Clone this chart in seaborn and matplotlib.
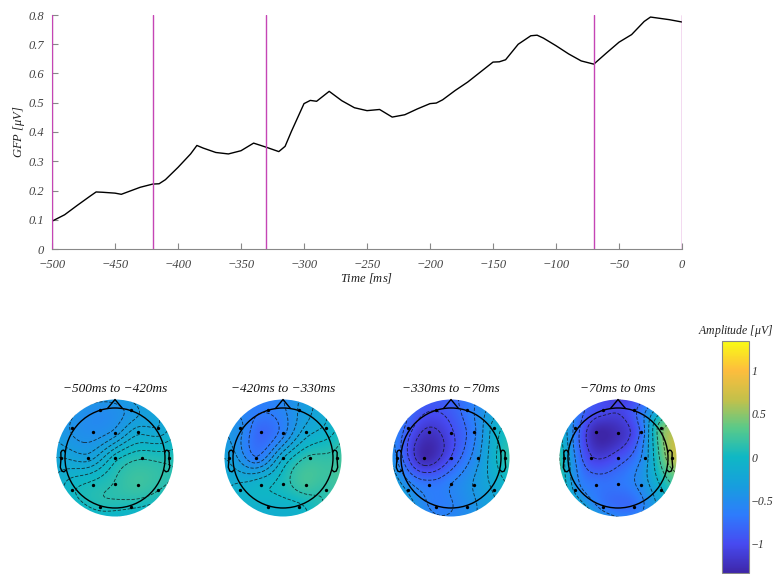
import numpy as np
import pandas as pd
import matplotlib
matplotlib.use("Agg")
import matplotlib.pyplot as plt
import seaborn as sns
from matplotlib.colors import LinearSegmentedColormap
from matplotlib.patches import Circle
from matplotlib.ticker import FuncFormatter, MultipleLocator

# GFP curve
gfp_time = [-500, -490, -480, -470, -465, -460, -450, -445, -440, -430,
            -420, -415, -410, -400, -390, -385, -380, -370, -360, -350,
            -340, -330, -320, -315, -310, -300, -295, -290, -280, -270,
            -260, -250, -240, -230, -220, -210, -200, -195, -190, -180,
            -170, -160, -150, -145, -140, -130, -120, -115, -110, -100,
            -90, -80, -70, -60, -50, -40, -30, -25, -20, -10, 0]
gfp_value = [0.095, 0.117, 0.149, 0.180, 0.195, 0.194, 0.191, 0.187, 0.195, 0.211,
             0.222, 0.223, 0.237, 0.279, 0.325, 0.354, 0.345, 0.330, 0.325, 0.336,
             0.362, 0.348, 0.333, 0.351, 0.402, 0.497, 0.508, 0.505, 0.539, 0.507,
             0.483, 0.473, 0.477, 0.451, 0.459, 0.479, 0.497, 0.499, 0.510, 0.542,
             0.571, 0.605, 0.639, 0.640, 0.647, 0.700, 0.729, 0.731, 0.721, 0.695,
             0.667, 0.643, 0.632, 0.670, 0.707, 0.733, 0.778, 0.793, 0.790, 0.784, 0.776]
window_edges = [-500, -420, -330, -70, 0]

# 10-20 electrodes (head radius = 1, nose up)
channels = ["Fp1", "Fp2", "F7", "F3", "Fz", "F4", "F8", "T3", "C3", "Cz", "C4", "T4",
            "T5", "P3", "Pz", "P4", "T6", "O1", "O2"]
chan_x = [-0.31, 0.31, -0.86, -0.45, 0.0, 0.45, 0.86, -1.08, -0.54, 0.0, 0.54, 1.08,
          -0.86, -0.45, 0.0, 0.45, 0.86, -0.31, 0.31]
chan_y = [0.97, 0.97, 0.61, 0.53, 0.51, 0.53, 0.61, 0.0, 0.0, 0.0, 0.0, 0.0,
          -0.63, -0.53, -0.51, -0.53, -0.63, -0.98, -0.98]

# mean amplitude (uV) per window, per channel
win_titles = ["−500ms to −420ms", "−420ms to −330ms", "−330ms to −70ms", "−70ms to 0ms"]
amp_w1 = [-0.50, -0.40, -0.45, -0.50, -0.40, -0.20, -0.25, -0.25, -0.30, -0.02, 0.10, 0.08,
          0.00, 0.05, 0.12, 0.20, 0.12, 0.06, 0.04]
amp_w2 = [-0.65, -0.40, -0.50, -0.80, -0.60, -0.22, -0.12, -0.30, -0.65, -0.15, 0.15, 0.18,
          -0.10, -0.05, 0.05, 0.22, 0.15, -0.10, -0.05]
amp_w3 = [-0.95, -0.70, -0.85, -1.20, -1.00, -0.65, -0.15, -0.60, -1.30, -0.95, -0.45, 0.10,
          -0.45, -0.70, -0.60, -0.40, -0.20, -0.65, -0.50]
amp_w4 = [-1.00, -0.90, -0.65, -1.30, -1.25, -0.80, 0.35, -0.05, -1.05, -0.95, -0.45, 0.60,
          -0.40, -0.70, -0.70, -0.50, -0.10, -0.65, -0.75]
amp_windows = [amp_w1, amp_w2, amp_w3, amp_w4]
clim = 1.34
cbar_ticks = [-1, -0.5, 0, 0.5, 1]

# parula-like colormap
parula = LinearSegmentedColormap.from_list("parula", [
    (0.0, (0.2422, 0.1504, 0.6603)),
    (0.125, (0.2780, 0.2900, 0.9450)),
    (0.25, (0.1800, 0.4850, 0.9900)),
    (0.375, (0.0900, 0.6200, 0.8700)),
    (0.5, (0.0600, 0.7200, 0.7700)),
    (0.625, (0.3500, 0.7900, 0.5400)),
    (0.75, (0.7700, 0.7550, 0.2900)),
    (0.875, (0.9930, 0.7420, 0.2400)),
    (1.0, (0.9769, 0.9839, 0.0805))])


def v4_interp(xe, ye, ve, xg, yg):
    # biharmonic spline, like griddata 'v4'
    xe, ye, ve = np.asarray(xe), np.asarray(ye), np.asarray(ve)
    d = np.hypot(xe[:, None] - xe[None, :], ye[:, None] - ye[None, :])
    g = np.where(d > 0, d**2 * (np.log(np.where(d > 0, d, 1)) - 1), 0)
    w = np.linalg.solve(g, ve)
    dg = np.hypot(xg[..., None] - xe, yg[..., None] - ye)
    gg = np.where(dg > 0, dg**2 * (np.log(np.where(dg > 0, dg, 1)) - 1), 0)
    return gg @ w


sns.set_style("ticks")
plt.rcParams["font.family"] = ["Liberation Serif", "DejaVu Serif"]
plt.rcParams["font.style"] = "italic"
plt.rcParams["mathtext.fontset"] = "custom"
plt.rcParams["mathtext.rm"] = "Liberation Serif"
plt.rcParams["mathtext.it"] = "Liberation Serif:italic"

fmt = FuncFormatter(lambda v, p: ("%g" % v).replace("-", "−"))

fig = plt.figure(figsize=(7.75, 5.74), dpi=100)

# GFP time course
ax = fig.add_axes([52 / 775, 1 - 249 / 574, 630 / 775, 234 / 574])
df = pd.DataFrame({"time": gfp_time, "gfp": gfp_value})
sns.lineplot(data=df, x="time", y="gfp", color="k", lw=1, ax=ax)
for edge in window_edges:
    ax.axvline(edge, color="#c545b5", lw=1, zorder=3)
ax.set_xlim(-500, 0)
ax.set_ylim(0, 0.8)
ax.xaxis.set_major_locator(MultipleLocator(50))
ax.yaxis.set_major_locator(MultipleLocator(0.1))
ax.xaxis.set_major_formatter(fmt)
ax.yaxis.set_major_formatter(fmt)
sns.despine(ax=ax)
for s in ["left", "bottom"]:
    ax.spines[s].set_color("#888888")
    ax.spines[s].set_linewidth(0.8)
ax.tick_params(direction="in", length=4, width=0.8, color="#888888",
               labelcolor="#444444", labelsize=9)
ax.tick_params(axis="x", pad=7)
ax.tick_params(axis="y", pad=6)
ax.set_xlabel("Time $\\mathrm{[ms]}$", fontsize=9, color="#222222", labelpad=0)
ax.set_ylabel("GFP $\\mathrm{[}$μV$\\mathrm{]}$", fontsize=9, color="#222222", labelpad=1)

# topographic maps
ear_x = np.array([.497, .510, .518, .5299, .5419, .54, .547, .532, .510, .489]) * 2
ear_y = np.array([.0555, .0775, .0783, .0746, .0555, -.0055, -.0932, -.1313, -.1384, -.1199]) * 2
disk_r = 1.17
gx = np.linspace(-1.2, 1.2, 241)
GX, GY = np.meshgrid(gx, gx)
centers = [115, 283, 451, 618]
size = 125
for cx, title, amps in zip(centers, win_titles, amp_windows):
    tax = fig.add_axes([(cx - size / 2) / 775, (574 - 458 - size / 2) / 574,
                        size / 775, size / 574])
    Z = v4_interp(chan_x, chan_y, amps, GX, GY)
    Z = np.clip(Z, -clim, clim)
    inside = np.hypot(GX, GY) <= disk_r + 0.02
    im = tax.imshow(Z, extent=(-1.2, 1.2, -1.2, 1.2), origin="lower", cmap=parula,
                    vmin=-clim, vmax=clim, interpolation="bilinear")
    im.set_clip_path(Circle((0, 0), disk_r, transform=tax.transData))
    zin = Z[inside]
    levels = np.linspace(zin.min(), zin.max(), 9)[1:-1]
    cs = tax.contour(GX, GY, Z, levels=levels, colors="#111111", linewidths=0.6,
                     linestyles=[(0, (4, 2))], alpha=0.8)
    cs.set_clip_path(Circle((0, 0), disk_r, transform=tax.transData))
    tax.add_patch(Circle((0, 0), 1.0, fill=False, color="k", lw=1))
    tax.plot([-0.15, 0, 0.15], [0.99, 1.17, 0.99], color="k", lw=1)
    tax.plot(ear_x, ear_y, color="k", lw=1)
    tax.plot(-ear_x, ear_y, color="k", lw=1)
    tax.plot(chan_x, chan_y, "o", color="k", ms=2.4, mew=0)
    tax.set_xlim(-1.25, 1.25)
    tax.set_ylim(-1.25, 1.25)
    tax.set_aspect("equal")
    tax.axis("off")
    tax.set_title(title, fontsize=9.5, pad=1, color="#111111")

# colorbar
cax = fig.add_axes([722 / 775, 1 / 574, 27 / 775, 232 / 574])
cb = fig.colorbar(im, cax=cax, ticks=cbar_ticks)
cb.outline.set_edgecolor("#888888")
cb.outline.set_linewidth(0.8)
cax.yaxis.set_major_formatter(fmt)
cax.tick_params(direction="in", length=2, width=0.8, color="#555555",
                labelcolor="#333333", labelsize=8.5, pad=1.5)
cax.set_title("Amplitude $\\mathrm{[}$μV$\\mathrm{]}$", fontsize=8.5, pad=5, color="#222222")

fig.savefig("out.png", dpi=100)
